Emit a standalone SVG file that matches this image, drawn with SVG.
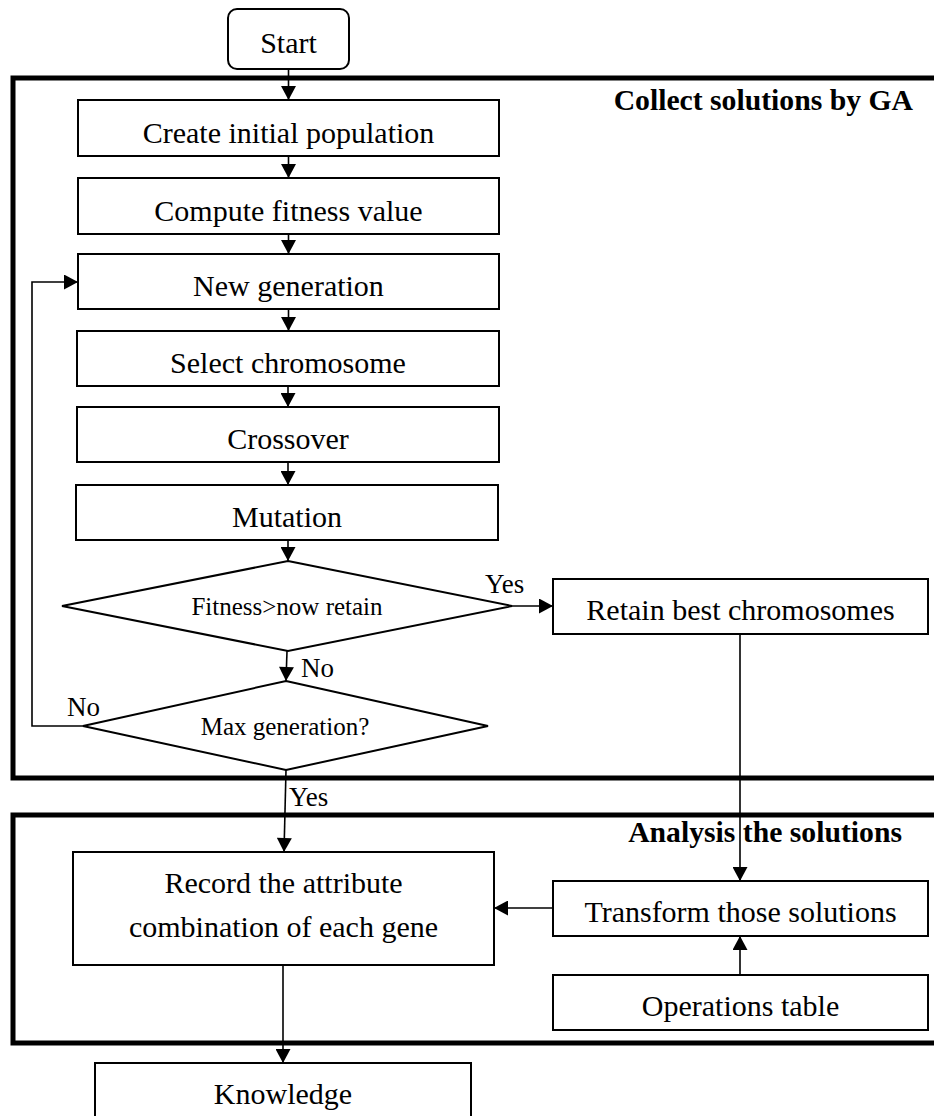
<svg xmlns="http://www.w3.org/2000/svg" width="934" height="1116" viewBox="0 0 934 1116">
<style>
.box{fill:#fff;stroke:#000;stroke-width:2}
.frame{fill:none;stroke:#000;stroke-width:5}
.t{font-family:"Liberation Serif","Times New Roman",serif;font-size:30px;text-anchor:middle;fill:#000}
.d{font-family:"Liberation Serif","Times New Roman",serif;font-size:25px;text-anchor:middle;fill:#000}
.lbl{font-family:"Liberation Serif","Times New Roman",serif;font-size:27px;fill:#000}
.title{font-family:"Liberation Serif","Times New Roman",serif;font-size:29.7px;font-weight:bold;text-anchor:end;fill:#000}
.c{fill:none;stroke:#000;stroke-width:1.6}
</style>
<defs>
<marker id="ah" markerWidth="15" markerHeight="15" viewBox="0 0 14 15" refX="14" refY="7.5" orient="auto" markerUnits="userSpaceOnUse">
<path d="M0,0 L14,7.5 L0,15 Z" fill="#000"/>
</marker>
</defs>
<rect width="934" height="1116" fill="#fff"/>
<g id="frames">
<path class="frame" d="M 940 78 H 13 V 778 H 940"/>
<path class="frame" d="M 940 815 H 13 V 1043 H 940"/>
<text class="title" x="913" y="110">Collect solutions by GA</text>
<text class="title" x="902" y="842">Analysis the solutions</text>
</g>
<g id="start"><rect class="box" x="228" y="9" width="121" height="60" rx="9"/><text class="t" x="288.5" y="53">Start</text></g>
<g id="create"><rect class="box" x="78" y="100" width="421" height="56"/><text class="t" x="288.5" y="143">Create initial population</text></g>
<g id="compute"><rect class="box" x="78" y="178" width="421" height="56"/><text class="t" x="288.5" y="221">Compute fitness value</text></g>
<g id="newgen"><rect class="box" x="78" y="254" width="421" height="55"/><text class="t" x="288.5" y="296">New generation</text></g>
<g id="select"><rect class="box" x="77" y="331" width="422" height="55"/><text class="t" x="288" y="373">Select chromosome</text></g>
<g id="crossover"><rect class="box" x="77" y="407" width="422" height="55"/><text class="t" x="288" y="449">Crossover</text></g>
<g id="mutation"><rect class="box" x="76" y="485" width="422" height="55"/><text class="t" x="287" y="527">Mutation</text></g>
<g id="fitness"><polygon class="box" points="288,561 512,606 288,651 62,606"/><text class="d" x="287" y="615">Fitness&gt;now retain</text></g>
<g id="maxgen"><polygon class="box" points="286,681 488,726 286,770 83,726"/><text class="d" x="285" y="735">Max generation?</text></g>
<g id="retain"><rect class="box" x="553" y="579" width="375" height="55"/><text class="t" x="740.5" y="620">Retain best chromosomes</text></g>
<g id="record"><rect class="box" x="73" y="852" width="421" height="113"/><text class="t" x="283.5" y="893">Record the attribute</text><text class="t" x="283.5" y="937">combination of each gene</text></g>
<g id="transform"><rect class="box" x="553" y="881" width="375" height="55"/><text class="t" x="740.5" y="922">Transform those solutions</text></g>
<g id="ops"><rect class="box" x="553" y="975" width="375" height="55"/><text class="t" x="740.5" y="1016">Operations table</text></g>
<g id="knowledge"><rect class="box" x="95" y="1063" width="376" height="70"/><text class="t" x="283" y="1104">Knowledge</text></g>
<g id="connectors">
<line class="c" x1="288.5" y1="69" x2="288.5" y2="100" marker-end="url(#ah)"/>
<line class="c" x1="288.5" y1="156" x2="288.5" y2="178" marker-end="url(#ah)"/>
<line class="c" x1="288.5" y1="234" x2="288.5" y2="254" marker-end="url(#ah)"/>
<line class="c" x1="288.5" y1="309" x2="288.5" y2="331" marker-end="url(#ah)"/>
<line class="c" x1="288" y1="386" x2="288" y2="407" marker-end="url(#ah)"/>
<line class="c" x1="288" y1="462" x2="288" y2="485" marker-end="url(#ah)"/>
<line class="c" x1="288" y1="540" x2="288" y2="561" marker-end="url(#ah)"/>
<line class="c" x1="287" y1="651" x2="286" y2="681" marker-end="url(#ah)"/>
<line class="c" x1="512" y1="606" x2="553" y2="606" marker-end="url(#ah)"/>
<polyline class="c" points="83,726 32,726 32,282 78,282" marker-end="url(#ah)"/>
<line class="c" x1="286" y1="770" x2="284" y2="852" marker-end="url(#ah)"/>
<line class="c" x1="740" y1="634" x2="740" y2="881" marker-end="url(#ah)"/>
<line class="c" x1="553" y1="908" x2="494" y2="908" marker-end="url(#ah)"/>
<line class="c" x1="740" y1="975" x2="740" y2="936" marker-end="url(#ah)"/>
<line class="c" x1="283" y1="965" x2="283" y2="1063" marker-end="url(#ah)"/>
<text class="lbl" x="485" y="593">Yes</text>
<text class="lbl" x="301" y="677">No</text>
<text class="lbl" x="67" y="716">No</text>
<text class="lbl" x="289" y="806">Yes</text>
</g>
</svg>
